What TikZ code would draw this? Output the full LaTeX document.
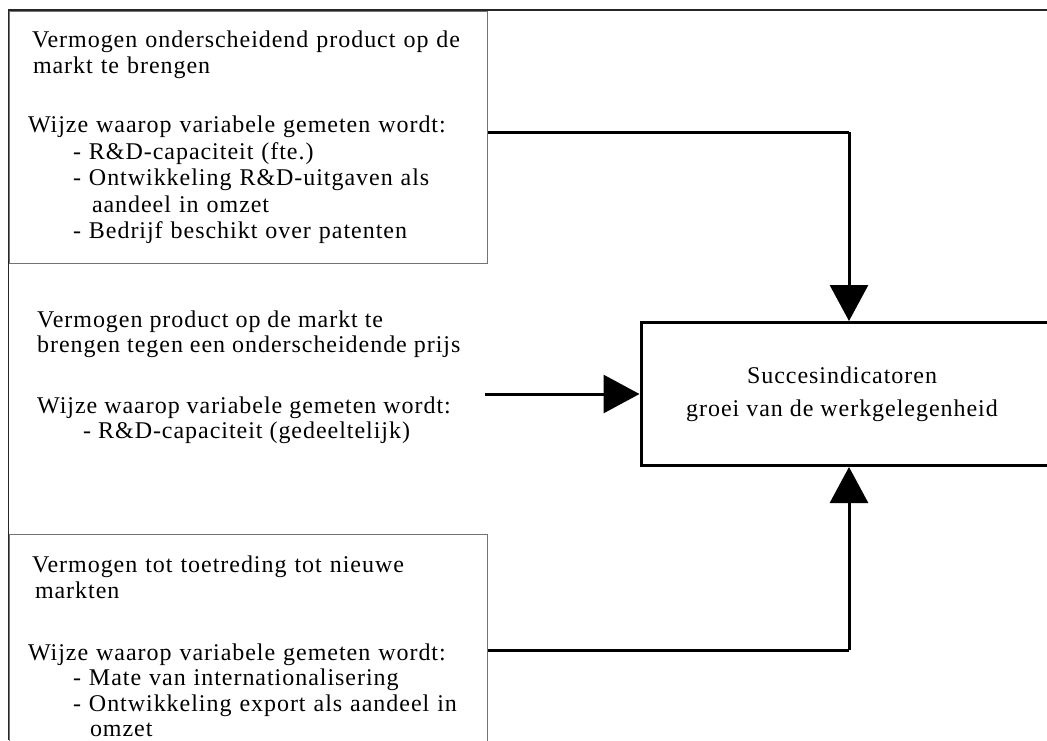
\documentclass[tikz,border=0pt]{standalone}
\usepackage{fontspec}
\setmainfont{Liberation Serif}[LetterSpace=4]
\usetikzlibrary{arrows.meta}
\begin{document}
\begin{tikzpicture}[x=1pt,y=-1pt,
  frame/.style={draw=black!85, line width=1.5pt},
  thinbox/.style={draw=black!55, line width=1pt, anchor=north west, align=left,
    text width=440pt, inner xsep=19pt},
  plain/.style={anchor=north west, align=left, inner sep=0pt},
  goalbox/.style={draw=black, line width=3pt, minimum width=416pt, minimum height=143pt,
    align=center, inner sep=0pt, font=\fontsize{24}{26}\selectfont},
  conn/.style={draw=black, line width=3pt, -{Triangle[length=36pt,width=38pt]}},
  line/.style={draw=black, line width=3pt}
]
\useasboundingbox (0,0) rectangle (1047,740);
\clip (0,0) rectangle (1047,740);

% top box
\node[thinbox, inner ysep=19.6pt, font=\fontsize{24}{26.5}\selectfont] (b1) at (8.5,10.5) {%
\mbox{\hspace*{4pt}Vermogen onderscheidend product op de}\\
\mbox{\hspace*{5pt}markt te brengen}\\[32.5pt]
\mbox{Wijze waarop variabele gemeten wordt:}\\
\mbox{\hspace*{45pt}- R\&D-capaciteit (fte.)}\\
\mbox{\hspace*{45pt}- Ontwikkeling R\&D-uitgaven als}\\
\mbox{\hspace*{64pt}aandeel in omzet}\\
\mbox{\hspace*{45pt}- Bedrijf beschikt over patenten}};

% middle text (no border)
\node[plain, font=\fontsize{24}{25}\selectfont] (b2) at (37,310.5) {%
Vermogen product op de markt te\\
brengen tegen een onderscheidende prijs\\[36pt]
Wijze waarop variabele gemeten wordt:\\
\hspace*{46pt}- R\&D-capaciteit (gedeeltelijk)};

% bottom box (cut off at bottom)
\node[thinbox, inner ysep=21.6pt, font=\fontsize{24}{25.5}\selectfont] (b3) at (8.5,534) {%
\mbox{\hspace*{4pt}Vermogen tot toetreding tot nieuwe}\\
\mbox{\hspace*{7pt}markten}\\[36.5pt]
\mbox{Wijze waarop variabele gemeten wordt:}\\
\mbox{\hspace*{45pt}- Mate van internationalisering}\\
\mbox{\hspace*{45pt}- Ontwikkeling export als aandeel in}\\
\mbox{\hspace*{62pt}omzet}};

% outer frame (cut off at right and bottom)
\draw[frame] (1047,10) -- (8.5,10) -- (8.5,740);

% goal box (cut off at right)
\node[goalbox] (goal) at (849,394) {%
Succesindicatoren\hspace*{14pt}\\[7pt]
groei van de werkgelegenheid\hspace*{14pt}};

% connectors
\coordinate (k1) at (849,132);
\coordinate (k2) at (485,394);
\coordinate (k3) at (849,650);

\draw[line] (b1.east |- k1) -- (k1);
\draw[conn] (k1) -- (goal.north);
\draw[conn] (k2) -- (goal.west);
\draw[line] (b3.east |- k3) -- (k3);
\draw[conn] (k3) -- (goal.south);
\end{tikzpicture}
\end{document}
